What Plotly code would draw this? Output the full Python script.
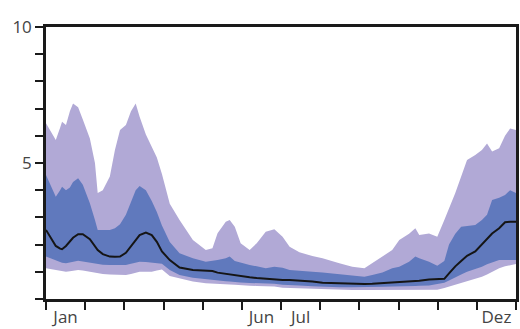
import plotly.graph_objects as go

# month position (0 = start of Jan, 12 = end of Dec)
months = [0.00, 0.18, 0.25, 0.36, 0.41, 0.51, 0.61, 0.69, 0.82, 0.94,
          1.12, 1.25, 1.32, 1.45, 1.63, 1.76, 1.89, 2.04, 2.17, 2.29,
          2.39, 2.55, 2.70, 2.83, 2.96, 3.16, 3.41, 3.75, 4.08, 4.25,
          4.38, 4.59, 4.69, 4.82, 4.97, 5.20, 5.38, 5.61, 5.83, 6.04,
          6.22, 6.47, 6.80, 7.06, 7.49, 7.82, 8.13, 8.33, 8.59, 8.84,
          9.02, 9.27, 9.43, 9.53, 9.78, 9.99, 10.17, 10.29, 10.45, 10.60,
          10.75, 10.96, 11.13, 11.26, 11.39, 11.57, 11.72, 11.85, 12.00]

outer_upper = [6.46, 6.0, 5.85, 6.3, 6.52, 6.4, 6.9, 7.19, 7.05, 6.6,
               5.9, 5.0, 3.9, 4.0, 4.5, 5.48, 6.21, 6.4, 6.9, 7.19,
               6.7, 6.05, 5.6, 5.2, 4.6, 3.5, 2.9, 2.17, 1.8, 1.87,
               2.42, 2.84, 2.9, 2.66, 2.05, 1.8, 2.05, 2.47, 2.56, 2.29,
               1.92, 1.72, 1.58, 1.5, 1.31, 1.19, 1.13, 1.31, 1.56, 1.8,
               2.17, 2.4, 2.6, 2.35, 2.41, 2.29, 2.9, 3.3, 3.9, 4.5,
               5.11, 5.29, 5.48, 5.72, 5.42, 5.54, 6.0, 6.27, 6.21]

inner_upper = [4.56, 4.0, 3.76, 4.0, 4.13, 4.0, 4.1, 4.3, 4.44, 4.2,
               3.52, 2.9, 2.54, 2.54, 2.54, 2.6, 2.75, 3.1, 3.6, 4.0,
               4.15, 4.0, 3.6, 3.2, 2.7, 2.1, 1.68, 1.5, 1.37, 1.4,
               1.43, 1.5, 1.56, 1.4, 1.33, 1.25, 1.2, 1.13, 1.19, 1.15,
               1.07, 1.05, 1.0, 0.97, 0.9, 0.85, 0.82, 0.88, 0.97, 1.13,
               1.19, 1.37, 1.56, 1.5, 1.37, 1.22, 1.4, 2.0, 2.4, 2.66,
               2.68, 2.72, 2.9, 3.1, 3.64, 3.72, 3.82, 4.0, 3.9]

median = [2.54, 2.11, 1.95, 1.85, 1.83, 1.95, 2.11, 2.25, 2.38, 2.38,
          2.2, 1.95, 1.8, 1.65, 1.56, 1.55, 1.56, 1.7, 1.95, 2.2,
          2.35, 2.44, 2.35, 2.1, 1.75, 1.43, 1.16, 1.07, 1.05, 1.03,
          0.97, 0.92, 0.9, 0.87, 0.83, 0.8, 0.77, 0.74, 0.71, 0.70,
          0.70, 0.68, 0.64, 0.6, 0.57, 0.55, 0.55, 0.56, 0.58, 0.6,
          0.61, 0.64, 0.66, 0.67, 0.72, 0.74, 0.74, 0.94, 1.2, 1.4,
          1.59, 1.75, 2.0, 2.2, 2.41, 2.6, 2.82, 2.84, 2.84]

inner_lower = [1.56, 1.45, 1.4, 1.35, 1.33, 1.31, 1.35, 1.38, 1.41, 1.38,
               1.33, 1.3, 1.28, 1.26, 1.25, 1.25, 1.25, 1.25, 1.3, 1.35,
               1.37, 1.36, 1.33, 1.3, 1.3, 1.07, 0.88, 0.78, 0.72, 0.70,
               0.68, 0.65, 0.64, 0.62, 0.61, 0.59, 0.58, 0.57, 0.56, 0.52,
               0.52, 0.5, 0.47, 0.45, 0.43, 0.43, 0.43, 0.44, 0.45, 0.46,
               0.46, 0.48, 0.48, 0.49, 0.5, 0.55, 0.6, 0.68, 0.78, 0.9,
               1.0, 1.1, 1.19, 1.28, 1.35, 1.43, 1.43, 1.43, 1.43]

outer_lower = [1.13, 1.08, 1.05, 1.02, 1.0, 1.0, 1.02, 1.04, 1.07, 1.05,
               1.0, 0.97, 0.95, 0.92, 0.9, 0.89, 0.88, 0.88, 0.92, 0.97,
               1.0, 1.0, 1.0, 1.05, 1.08, 0.85, 0.75, 0.64, 0.58, 0.56,
               0.55, 0.54, 0.53, 0.52, 0.5, 0.49, 0.48, 0.47, 0.46, 0.41,
               0.4, 0.38, 0.36, 0.35, 0.33, 0.33, 0.33, 0.33, 0.33, 0.33,
               0.33, 0.33, 0.33, 0.33, 0.33, 0.34, 0.4, 0.45, 0.52, 0.58,
               0.64, 0.74, 0.82, 0.9, 1.0, 1.13, 1.2, 1.25, 1.29]

month_tick_positions = list(range(13))
month_label_positions = [0.5, 5.5, 6.5, 11.5]
month_labels = ["Jan", "Jun", "Jul", "Dez"]
y_label_values = [5, 10]
y_labels = ["5", "10"]
y_minor_values = list(range(11))

LIGHT = "#b1a9d6"
DARK = "#6079bd"
AXIS = "#1a1a1a"

fig = go.Figure()
fig.add_trace(go.Scatter(x=months, y=outer_lower, mode="lines",
                         line=dict(width=0), showlegend=False, hoverinfo="skip"))
fig.add_trace(go.Scatter(x=months, y=outer_upper, mode="lines", fill="tonexty",
                         fillcolor=LIGHT, line=dict(width=0), showlegend=False))
fig.add_trace(go.Scatter(x=months, y=inner_lower, mode="lines",
                         line=dict(width=0), showlegend=False, hoverinfo="skip"))
fig.add_trace(go.Scatter(x=months, y=inner_upper, mode="lines", fill="tonexty",
                         fillcolor=DARK, line=dict(width=0), showlegend=False))
fig.add_trace(go.Scatter(x=months, y=median, mode="lines",
                         line=dict(color="#151515", width=2), showlegend=False))

font = dict(family="Open Sans, Liberation Sans, sans-serif", size=17, color="#444444")

fig.update_layout(
    template="none",
    width=520, height=329,
    margin=dict(l=46, r=4, t=27, b=30),
    paper_bgcolor="white", plot_bgcolor="white",
    font=font,
    xaxis=dict(
        range=[0, 12], showgrid=False, zeroline=False, automargin=False,
        showline=True, linecolor=AXIS, linewidth=2.5, mirror=True,
        tickmode="array", tickvals=month_label_positions, ticktext=month_labels,
        ticks="outside", ticklen=1, tickcolor="rgba(0,0,0,0)",
        minor=dict(tickmode="array", tickvals=month_tick_positions, ticks="outside",
                   ticklen=8, tickwidth=2, tickcolor=AXIS, showgrid=False),
        tickfont=font,
    ),
    yaxis=dict(
        range=[0, 10], showgrid=False, zeroline=False, automargin=False,
        showline=True, linecolor=AXIS, linewidth=2.5, mirror=True,
        tickmode="array", tickvals=y_label_values, ticktext=y_labels,
        ticks="outside", ticklen=8, tickwidth=2, tickcolor=AXIS,
        minor=dict(tickmode="array", tickvals=y_minor_values, ticks="outside",
                   ticklen=8, tickwidth=2, tickcolor=AXIS, showgrid=False),
        tickfont=font,
    ),
)

# remove the default page margin so the 520x329 figure fills the window exactly
fig.write_html(
    "out.html",
    config={"displayModeBar": False},
    post_script="document.body.style.margin='0';document.body.style.overflow='hidden';",
)
